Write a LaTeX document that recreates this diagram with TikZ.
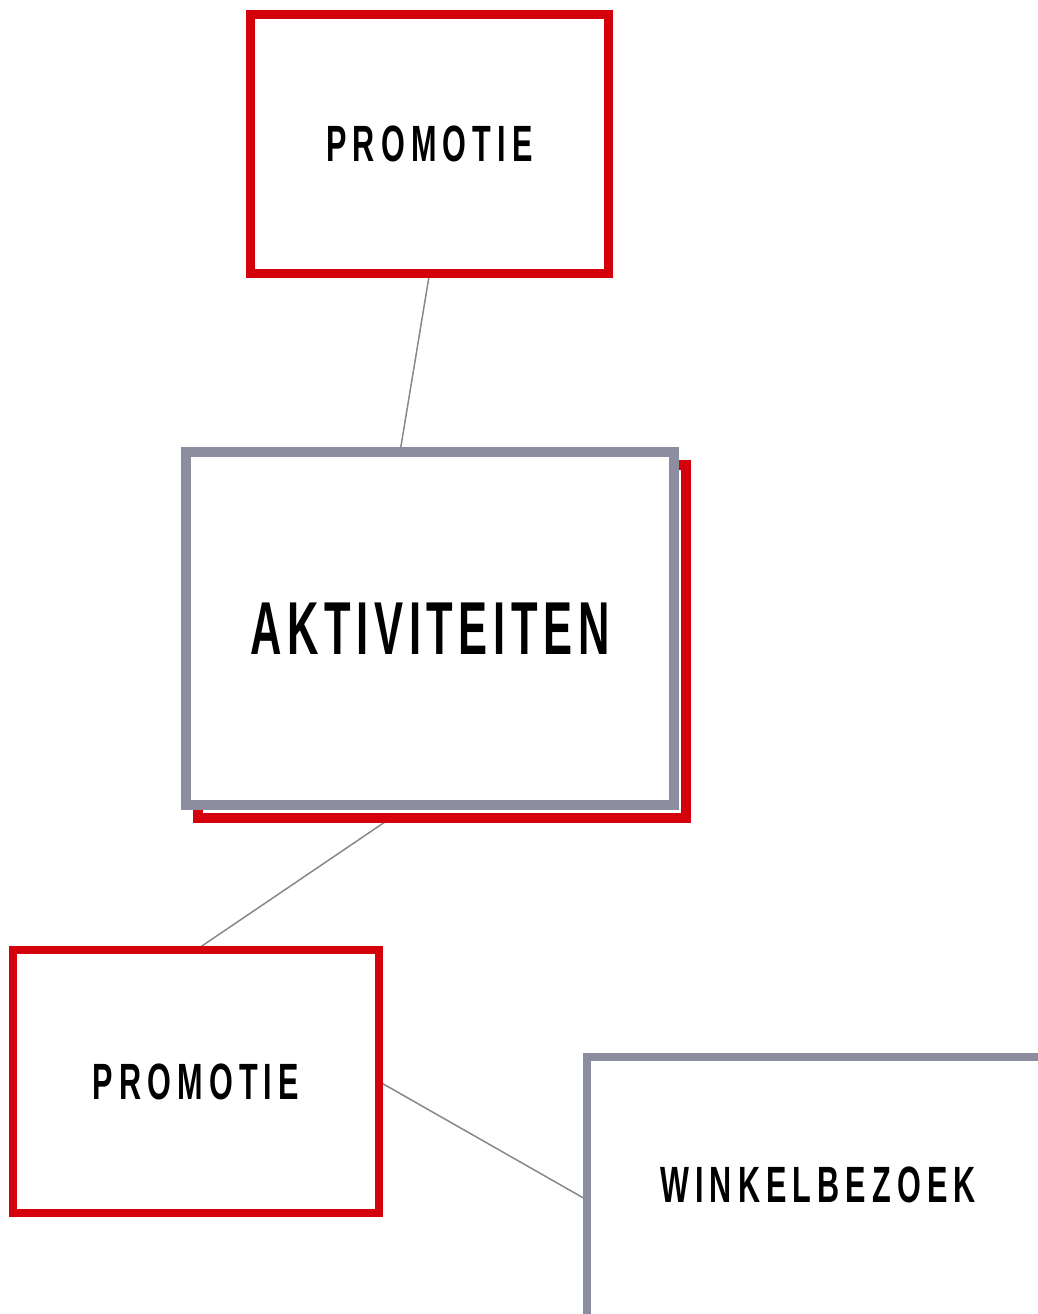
\documentclass[tikz,border=0pt]{standalone}
\usepackage{fontspec}
\newfontfamily\boxfont[FakeStretch=0.6,LetterSpace=12]{Liberation Sans}
\newfontfamily\bigboxfont[FakeStretch=0.58,LetterSpace=7.5]{Liberation Sans}
\usetikzlibrary{backgrounds}
\definecolor{boxred}{RGB}{212,0,12}
\definecolor{boxgray}{RGB}{140,142,160}
\definecolor{linkgray}{RGB}{135,135,140}

\begin{document}
\begin{tikzpicture}[x=1pt,y=-1pt]
			\tikzstyle{frame}=[rectangle,inner sep=0pt,outer sep=0pt,fill=white]
			\tikzstyle{redframe}=[frame,draw=boxred,line width=9pt]
			\tikzstyle{grayframe}=[frame,draw=boxgray,line width=10pt]
			\tikzstyle{smalltext}=[font=\boxfont\bfseries\fontsize{51}{51}\selectfont]
			\tikzstyle{bigtext}=[font=\bigboxfont\bfseries\fontsize{75}{75}\selectfont]
			\tikzstyle{link}=[draw=linkgray,line width=1.5pt]
			\useasboundingbox (0,0) rectangle (1038,1314);
			
			\node[redframe,smalltext,minimum width=358pt,minimum height=259pt] (topprom) at (429.5,144) {PROMOTIE};
			\node[redframe,line width=10pt,minimum width=488pt,minimum height=353pt] (aktshadow) at (442,641.5) {};
			\node[grayframe,bigtext,minimum width=488pt,minimum height=353pt] (akt) at (430,628.5) {AKTIVITEITEN};
			\node[redframe,smalltext,line width=8pt,minimum width=366pt,minimum height=263pt] (lowprom) at (196,1081.5) {PROMOTIE};
			\node[grayframe,smalltext,line width=8pt,minimum width=462pt,minimum height=300pt] (winkel) at (818,1207) {\raisebox{44pt}{WINKELBEZOEK}};
			
			\begin{scope}[on background layer]
			\draw[link] (topprom.south) -- ([xshift=-30pt]akt.north);
			\draw[link] ([xshift=-20pt]akt.south) -- (lowprom.north);
			\draw[link] (lowprom.east) -- ([yshift=7pt]winkel.west);
			\end{scope}
\end{tikzpicture}
\end{document}
